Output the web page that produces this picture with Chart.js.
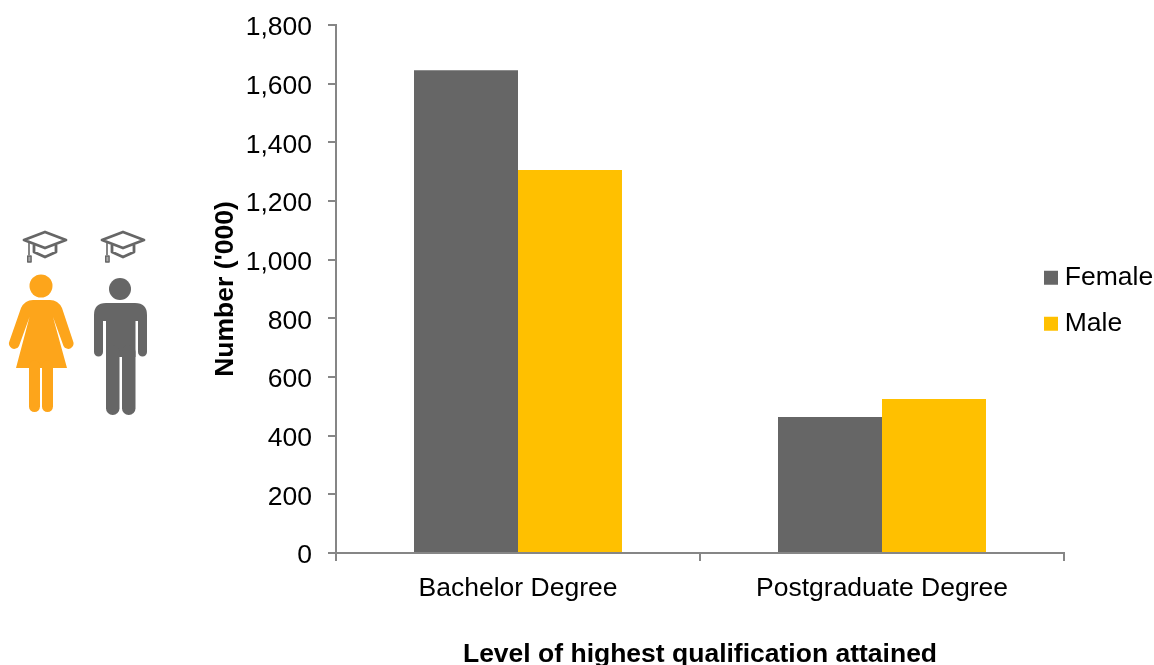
<!DOCTYPE html>
<html><head><meta charset="utf-8">
<style>
html,body{margin:0;padding:0;background:#fff;width:1154px;height:665px;overflow:hidden}
#wrap{position:relative;width:1154px;height:665px}
canvas{position:absolute;left:0;top:0}
svg{position:absolute;left:0;top:0;pointer-events:none}
</style>
<script src="https://cdn.jsdelivr.net/npm/chart.js@4/dist/chart.umd.js"></script>
</head><body>
<div id="wrap"><canvas id="c" width="1154" height="665"></canvas>
<svg width="1154" height="665" viewBox="0 0 1154 665" aria-hidden="true">
<defs><g id="cap" fill="none" stroke="#666666" stroke-width="2.8" stroke-linejoin="round">
<path d="M-21 0L0-8 21 0 0 8Z"/><path d="M-11 5V12L0 17 11 12V5"/><path d="M-16 3V15" stroke-width="1.6"/><rect x="-17.3" y="16" width="3.4" height="6" fill="#aaa" stroke-width="1.4"/></g></defs>
<use href="#cap" x="45" y="240"/><use href="#cap" x="123" y="240"/>
<g fill="#FDA51B"><circle cx="41" cy="286" r="11.5"/>
<path d="M33 300H50Q58 300 62 308L73 341A5 5 0 0 1 63.500 346L53 317 67 368H16L29.500 317 19 346A5 5 0 0 1 9.500 341L21 308Q25 300 33 300Z"/>
<rect x="29" y="360" width="11" height="52" rx="5.500"/><rect x="42" y="360" width="11" height="52" rx="5.500"/></g>
<g fill="#666666"><circle cx="120" cy="289" r="11"/>
<path d="M106 303H135Q147 303 147 315V352A4.500 4.500 0 0 1 138 352V321H135.500V357H106V321H103V352A4.500 4.500 0 0 1 94 352V315Q94 303 106 303Z"/>
<rect x="106" y="345" width="13.500" height="70" rx="6.700"/><rect x="122" y="345" width="13.500" height="70" rx="6.700"/></g>
</svg></div>
<script>
const categories = ["Bachelor Degree", "Postgraduate Degree"];
const femaleValues = [1646, 464];
const maleValues = [1306, 525];
const seriesNames = ["Female", "Male"];
const xTitle = "Level of highest qualification attained";
const yTitle = "Number ('000)";
const FONT = "'Liberation Sans', Arial, sans-serif";
const axisGrey = "#868686";
const plotTop = 25, plotBottom = 553;

const placeLegend = {
  id: "placeLegend",
  beforeLayout(chart) {
    const l = chart.legend;
    if (!l._wrapped) {
      const f = l.fit;
      l.fit = function () { f.call(this); this.width = 90; };
      l._wrapped = true;
    }
  },
  afterLayout(chart) {
    const l = chart.legend;
    const h = l.bottom - l.top;
    l.left = 1031; l.right = 1154; l.top = 245; l.bottom = 245 + h;
    const y = chart.scales.y;
    y.paddingTop = 0; y.paddingBottom = 0;
    y.top = plotTop; y.bottom = plotBottom; y.height = plotBottom - plotTop;
    y.configure();
    chart.chartArea.top = plotTop; chart.chartArea.bottom = plotBottom;
    chart.chartArea.height = plotBottom - plotTop;
  }
};

new Chart(document.getElementById("c"), {
  type: "bar",
  plugins: [placeLegend],
  data: {
    labels: categories,
    datasets: [
      { label: seriesNames[0], data: femaleValues, backgroundColor: "#666666" },
      { label: seriesNames[1], data: maleValues, backgroundColor: "#FFC000" }
    ]
  },
  options: {
    responsive: false, animation: false, devicePixelRatio: 1,
    layout: { autoPadding: false, padding: { top: 19, bottom: 0, left: 0, right: 0 } },
    datasets: { bar: { categoryPercentage: 0.5714, barPercentage: 1 } },
    plugins: {
      tooltip: { enabled: false },
      title: { display: false },
      legend: {
        position: "right", align: "start", fullSize: false,
        labels: {
          boxWidth: 1, boxHeight: 1, padding: 19.5, color: "#000", font: { family: FONT, size: 26.5 },
          generateLabels(chart) {
            return Chart.defaults.plugins.legend.labels.generateLabels(chart).map(it => ({
              ...it, strokeStyle: it.fillStyle, lineWidth: 13
            }));
          }
        }
      }
    },
    scales: {
      x: {
        afterFit(s) { s.height = 112; },
        grid: { drawOnChartArea: false, color: axisGrey, lineWidth: 2, tickLength: 8, tickColor: axisGrey, offset: true },
        border: { color: axisGrey, width: 2 },
        ticks: { color: "#000", padding: 12, maxRotation: 0, font: { family: FONT, size: 26.5 } },
        title: { display: true, text: xTitle, color: "#000", padding: { top: 26, bottom: -6 }, font: { family: FONT, size: 26.5, weight: "bold" } }
      },
      y: {
        min: 0, max: 1800,
        afterFit(s) { s.width = 336; },
        grid: { drawOnChartArea: false, color: axisGrey, lineWidth: 2, tickLength: 8, tickColor: axisGrey },
        border: { color: axisGrey, width: 2 },
        ticks: { stepSize: 200, color: "#000", padding: 16, labelOffset: 3, font: { family: FONT, size: 26.5 },
          callback: v => v.toLocaleString("en-US") },
        title: { display: true, text: yTitle, color: "#000", padding: { top: 210, bottom: 0 }, font: { family: FONT, size: 26.5, weight: "bold" } }
      }
    }
  }
});
</script>
</body></html>
